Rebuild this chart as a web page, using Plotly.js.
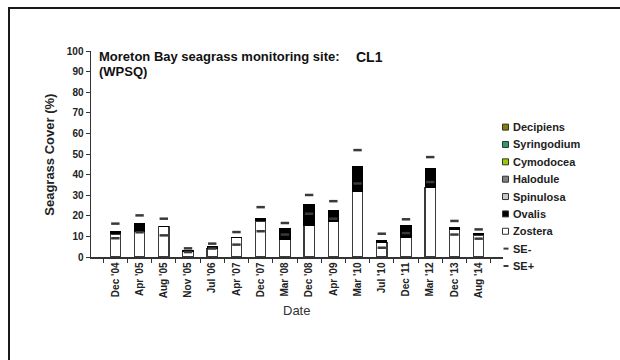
<!DOCTYPE html>
<html>
<head>
<meta charset="utf-8">
<script src="https://cdn.plot.ly/plotly-3.0.1.min.js"></script>
<style>
  html, body { margin: 0; padding: 0; background: #fff; }
  #chart { width: 620px; height: 360px; }
</style>
</head>
<body>
<div id="chart"></div>
<script>
// ---- data ----
const categories = ["Dec '04","Apr '05","Aug '05","Nov '05","Jul '06","Apr '07","Dec '07","Mar '08",
                    "Dec '08","Apr '09","Mar '10","Jul '10","Dec '11","Mar '12","Dec '13","Aug '14"];
const zostera = [11.2, 12.3, 14.7, 2.8, 4.0, 9.4, 17.5, 8.4, 15.5, 17.2, 31.8, 7.0, 9.4, 33.6, 13.4, 10.7];
const ovalis  = [1.3, 4.2, 0, 0.3, 1.2, 0, 1.3, 5.5, 9.9, 5.6, 12.3, 1.1, 6.1, 9.2, 0.7, 0.6];
const sePlus  = [16.2, 20.2, 18.6, 4.2, 6.5, 12.1, 24.2, 16.5, 30.1, 27.1, 51.9, 11.3, 18.3, 48.5, 17.5, 13.4];
const seMinus = [9.1, 12.0, 10.5, 2.4, 4.1, 6.0, 12.5, 10.9, 21.0, 18.6, 35.7, 4.5, 11.6, 36.4, 10.9, 8.9];
const legendLabels = ["Decipiens","Syringodium","Cymodocea","Halodule","Spinulosa","Ovalis","Zostera","SE-","SE+"];
const yTickValues = [0,10,20,30,40,50,60,70,80,90,100];

// ---- styles ----
const FONT = "Liberation Sans, Arial, Helvetica, sans-serif";
const legendStyles = [
  {type:"box", fill:"#7f7f00"},
  {type:"box", fill:"#2e9a6a"},
  {type:"box", fill:"#99cc00"},
  {type:"box", fill:"#808080"},
  {type:"box", fill:"#c8c8c8"},
  {type:"box", fill:"#000000"},
  {type:"box", fill:"#ffffff"},
  {type:"dash"},
  {type:"dash"}
];

const W = 620, H = 360;
const M = {l: 91, r: 117, t: 51, b: 102.5};
const PW = W - M.l - M.r, PH = H - M.t - M.b;
const px = x => (x - M.l) / PW;
const py = y => (H - M.b - y) / PH;

const traces = [
  {type:"bar", name:"Zostera", x:categories, y:zostera,
   marker:{color:"#ffffff", line:{color:"#3a3a3a", width:1.2}}, hoverinfo:"x+y"},
  {type:"bar", name:"Ovalis", x:categories, y:ovalis,
   marker:{color:"#000000", line:{color:"#000000", width:1}}, hoverinfo:"x+y"},
  {type:"scatter", mode:"markers", name:"SE-", x:categories, y:seMinus,
   marker:{symbol:"line-ew", size:6, line:{color:"#3a3a3a", width:2.5}}},
  {type:"scatter", mode:"markers", name:"SE+", x:categories, y:sePlus,
   marker:{symbol:"line-ew", size:6, line:{color:"#3a3a3a", width:2.5}}}
];

const shapes = [];
const annotations = [];

// outer frame (top and left edges)
shapes.push({type:"path", xref:"paper", yref:"paper",
  path:`M${px(9)},${py(365)} L${px(9)},${py(8)} L${px(625)},${py(8)}`,
  line:{color:"#1a1a1a", width:2}});

// legend
legendLabels.forEach((lab, i) => {
  const cy = 127.3 + i * 17.4;
  const st = legendStyles[i];
  if (st.type === "box") {
    shapes.push({type:"rect", xref:"paper", yref:"paper",
      x0:px(502.5), x1:px(508.5), y0:py(cy+3), y1:py(cy-3),
      fillcolor:st.fill, line:{color:"#333", width:1}});
  } else {
    shapes.push({type:"line", xref:"paper", yref:"paper",
      x0:px(503.5), x1:px(508.5), y0:py(cy), y1:py(cy),
      line:{color:"#3a3a3a", width:2}});
  }
  annotations.push({xref:"paper", yref:"paper", x:px(510.5), y:py(cy),
    xanchor:"left", yanchor:"middle", showarrow:false, text:lab,
    font:{family:FONT, size:11, color:"#222", weight:"bold"}});
});

// titles
annotations.push({xref:"paper", yref:"paper", x:px(97), y:py(56.5), xanchor:"left", yanchor:"middle",
  showarrow:false, text:"Moreton Bay seagrass monitoring site:",
  font:{family:FONT, size:13, color:"#111", weight:"bold"}});
annotations.push({xref:"paper", yref:"paper", x:px(97), y:py(71.5), xanchor:"left", yanchor:"middle",
  showarrow:false, text:"(WPSQ)",
  font:{family:FONT, size:13, color:"#111", weight:"bold"}});
annotations.push({xref:"paper", yref:"paper", x:px(354), y:py(57), xanchor:"left", yanchor:"middle",
  showarrow:false, text:"CL1",
  font:{family:FONT, size:14, color:"#111", weight:"bold"}});
annotations.push({xref:"paper", yref:"paper", x:px(50), y:py(155), xanchor:"center", yanchor:"middle",
  showarrow:false, text:"Seagrass Cover (%)", textangle:-90,
  font:{family:FONT, size:13, color:"#222", weight:"bold"}});
annotations.push({xref:"paper", yref:"paper", x:px(296.5), y:py(311), xanchor:"center", yanchor:"middle",
  showarrow:false, text:"Date",
  font:{family:FONT, size:13, color:"#333"}});

const layout = {
  width: W, height: H,
  margin: {l:M.l, r:M.r, t:M.t, b:M.b, pad:0},
  paper_bgcolor:"#ffffff", plot_bgcolor:"#ffffff",
  barmode:"stack", bargap:0.57,
  showlegend:false,
  font:{family:FONT, color:"#222"},
  xaxis:{type:"category", categoryorder:"array", categoryarray:categories,
    showline:true, linecolor:"#333", linewidth:1.5, mirror:false,
    ticks:"outside", tickson:"boundaries", ticklen:4, tickcolor:"#333", tickwidth:1,
    tickangle:-90, tickfont:{family:FONT, size:10, color:"#222", weight:"bold"},
    showgrid:false, zeroline:false, automargin:false, fixedrange:true},
  yaxis:{range:[0,100], tickmode:"array", tickvals:yTickValues, ticktext:yTickValues.map(String),
    showline:true, linecolor:"#333", linewidth:1.5,
    ticks:"outside", ticklen:4, tickcolor:"#333", tickwidth:1,
    tickfont:{family:FONT, size:10, color:"#222", weight:"bold"},
    showgrid:false, zeroline:false, automargin:false, fixedrange:true},
  shapes: shapes,
  annotations: annotations
};

Plotly.newPlot("chart", traces, layout, {displayModeBar:false, staticPlot:true});
</script>
</body>
</html>
